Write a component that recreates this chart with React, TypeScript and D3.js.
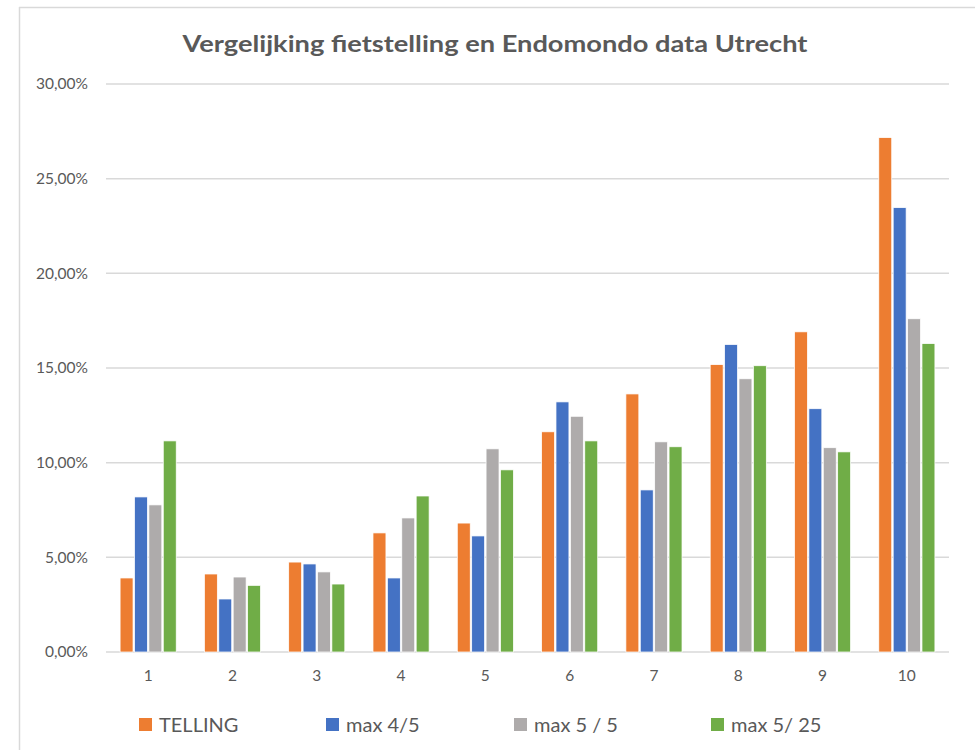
import React from 'react';
import * as d3 from 'd3';

// Data
const categories = ['1', '2', '3', '4', '5', '6', '7', '8', '9', '10'];
const seriesNames = ['TELLING', 'max 4/5', 'max 5 / 5', 'max 5/ 25'];
const telling = [3.91, 4.12, 4.75, 6.29, 6.81, 11.63, 13.63, 15.18, 16.91, 27.17];
const max45 = [8.19, 2.8, 4.65, 3.91, 6.13, 13.21, 8.56, 16.24, 12.85, 23.47];
const max55 = [7.77, 3.96, 4.23, 7.08, 10.73, 12.45, 11.1, 14.43, 10.79, 17.6];
const max525 = [11.15, 3.52, 3.59, 8.24, 9.62, 11.15, 10.84, 15.12, 10.57, 16.29];
const yTicks = [0, 5, 10, 15, 20, 25, 30];

const seriesValues = [telling, max45, max55, max525];
const colors = ['#ED7D31', '#4472C4', '#AEABAB', '#70AD47'];
const legendX = [139, 326, 514, 711];

const width = 975;
const height = 750;
const margin = { top: 84, right: 26, bottom: 98, left: 106 };
const font = 'Lato, "Open Sans", sans-serif';
const textColor = '#595959';

const App = () => {
  const x0 = d3
    .scaleBand()
    .domain(categories)
    .range([margin.left, width - margin.right])
    .paddingInner(0.3)
    .paddingOuter(0.15);

  const x1 = d3
    .scaleBand()
    .domain(seriesNames)
    .range([0, x0.bandwidth()])
    .padding(0.1);

  const y = d3
    .scaleLinear()
    .domain([0, 30])
    .range([height - margin.bottom, margin.top]);

  const fmt = (d: number) => d.toFixed(2).replace('.', ',') + '%';

  return (
    <svg
      width={width}
      height={height}
      style={{ position: 'absolute', left: 0, top: 0, background: '#fff' }}
    >
      {/* frame */}
      <line x1={19} x2={975} y1={7.5} y2={7.5} stroke="#d9d9d9" strokeWidth={1.5} />
      <line x1={19.5} x2={19.5} y1={7} y2={750} stroke="#d9d9d9" strokeWidth={1.5} />

      <text
        x={495}
        y={52}
        textAnchor="middle"
        fontFamily={font}
        fontWeight="bold"
        fontSize={22}
        fill={textColor}
        textLength={625}
        lengthAdjust="spacingAndGlyphs"
      >
        Vergelijking fietstelling en Endomondo data Utrecht
      </text>

      {/* gridlines + y labels */}
      {yTicks.map((t) => (
        <g key={t}>
          <line
            x1={margin.left}
            x2={width - margin.right}
            y1={y(t)}
            y2={y(t)}
            stroke="#d9d9d9"
            strokeWidth={1.5}
          />
          <text
            x={88}
            y={y(t)}
            dy="0.35em"
            textAnchor="end"
            fontFamily={font}
            fontSize={15.5}
            fill={textColor}
          >
            {fmt(t)}
          </text>
        </g>
      ))}

      {/* bars */}
      {categories.map((c, i) => (
        <g key={c} transform={`translate(${x0(c)},0)`}>
          {seriesNames.map((s, j) => (
            <rect
              key={s}
              x={x1(s)}
              y={y(seriesValues[j][i])}
              width={x1.bandwidth()}
              height={y(0) - y(seriesValues[j][i])}
              fill={colors[j]}
              stroke="#fff"
              strokeWidth={0.75}
            />
          ))}
        </g>
      ))}

      {/* x labels */}
      {categories.map((c) => (
        <text
          key={c}
          x={(x0(c) as number) + x0.bandwidth() / 2}
          y={681}
          textAnchor="middle"
          fontFamily={font}
          fontSize={15.5}
          fill={textColor}
        >
          {c}
        </text>
      ))}

      {/* legend */}
      {seriesNames.map((s, j) => (
        <g key={s}>
          <rect x={legendX[j]} y={718} width={13} height={13} fill={colors[j]} />
          <text
            x={legendX[j] + 20}
            y={732}
            fontFamily={font}
            fontSize={20}
            fill={textColor}
          >
            {s}
          </text>
        </g>
      ))}
    </svg>
  );
};

export default App;
